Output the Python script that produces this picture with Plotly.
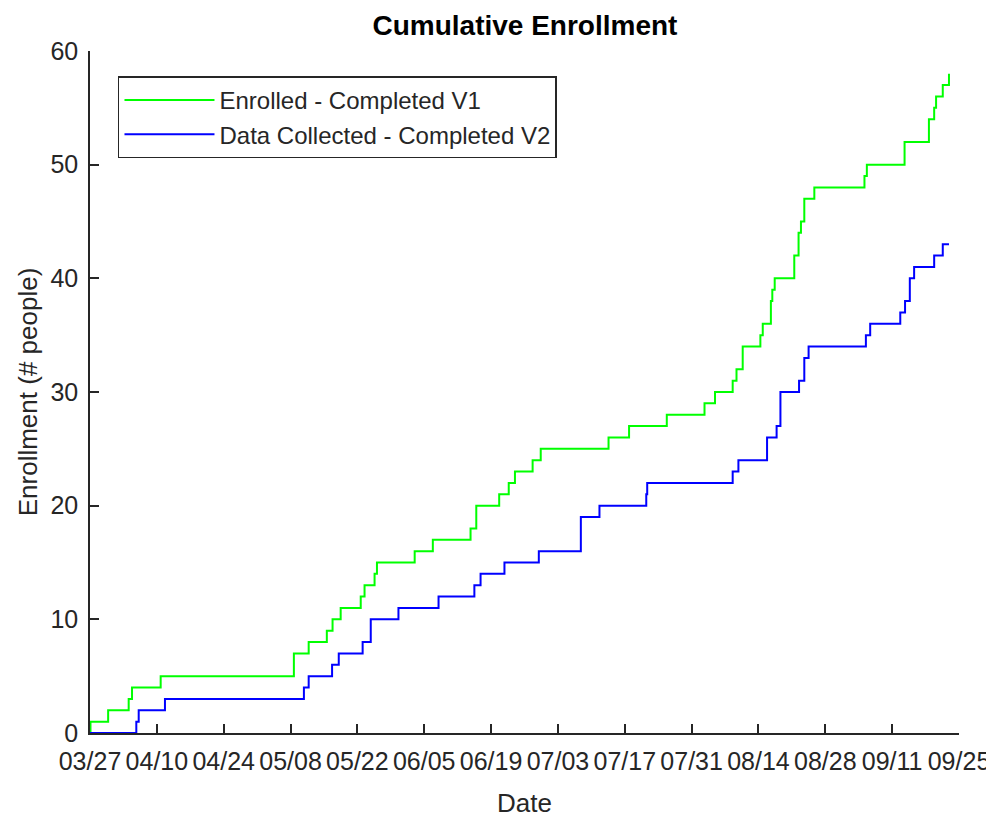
import pandas as pd
import plotly.graph_objects as go

START_DATE = "2017-03-27"
END_DATE = "2017-09-25"

# Day offsets (from START_DATE) at which each cumulative count changes, with the count after the change
enrolled_days = [0, 0.1, 3.8, 8.1, 8.8, 14.8, 42.7, 45.8, 49.6, 50.8, 52.5, 56.7, 57.5, 59.6, 60.1,
                 68.0, 71.8, 79.7, 80.9, 85.7, 87.7, 89.0, 92.7, 94.4, 108.6, 112.9, 120.8,
                 128.7, 130.9, 134.6, 135.4, 136.7, 140.4, 140.9, 142.6, 142.9, 143.4, 147.5,
                 148.4, 148.9, 149.6, 151.7, 162.2, 162.7, 170.6, 175.7, 176.8, 177.2, 178.6, 179.9]
enrolled_counts = [0, 1, 2, 3, 4, 5, 7, 8, 9, 10, 11, 12, 13, 14, 15,
                   16, 17, 18, 20, 21, 22, 23, 24, 25, 26, 27, 28,
                   29, 30, 31, 32, 34, 35, 36, 38, 39, 40, 42,
                   44, 45, 47, 48, 49, 50, 52, 54, 55, 56, 57, 58]

collected_days = [0, 9.7, 10.2, 15.7, 44.8, 45.8, 50.7, 52.1, 57.1, 58.8, 64.6, 73.0, 80.5, 81.8,
                  86.8, 94.0, 102.8, 106.7, 116.5, 116.7, 134.6, 135.8, 141.8, 143.8, 144.6,
                  148.5, 149.6, 150.5, 162.5, 163.4, 169.7, 170.7, 171.7, 172.6, 176.8, 178.6, 179.9]
collected_counts = [0, 1, 2, 3, 4, 5, 6, 7, 8, 10, 11, 12, 13, 14,
                    15, 16, 19, 20, 21, 22, 23, 24, 26, 27, 30,
                    31, 33, 34, 35, 36, 37, 38, 40, 41, 42, 43, 43]

series_names = ["Enrolled - Completed V1", "Data Collected - Completed V2"]
series_colors = ["#00ff00", "#0000ff"]

start = pd.Timestamp(START_DATE)
enrolled_dates = start + pd.to_timedelta(enrolled_days, unit="D")
collected_dates = start + pd.to_timedelta(collected_days, unit="D")

FONT = "Liberation Sans, Arial, Helvetica, sans-serif"
DARK = "#262626"

fig = go.Figure()
fig.add_trace(go.Scatter(x=enrolled_dates, y=enrolled_counts, mode="lines",
                         line=dict(color=series_colors[0], width=2, shape="hv"),
                         name=series_names[0]))
fig.add_trace(go.Scatter(x=collected_dates, y=collected_counts, mode="lines",
                         line=dict(color=series_colors[1], width=2, shape="hv"),
                         name=series_names[1]))

# page body has an 8px margin, so the figure is sized/offset to compensate
fig.update_layout(
    width=986, height=810,
    margin=dict(l=82, r=35, t=42.5, b=84.5, autoexpand=False),
    paper_bgcolor="white", plot_bgcolor="white",
    font=dict(family=FONT, size=25, color=DARK),
    title=dict(text="<b>Cumulative Enrollment</b>", x=0.5243, xanchor="center",
               y=0.979, yanchor="middle", font=dict(size=28, color="black")),
    legend=dict(x=0.0322, y=0.9627, xanchor="left", yanchor="top",
                bgcolor="white", bordercolor=DARK, borderwidth=1.5,
                font=dict(size=24, color=DARK), itemwidth=90,
                tracegroupgap=0),
    showlegend=True,
)

fig.update_xaxes(
    type="date", range=[START_DATE, END_DATE],
    tick0=START_DATE, dtick=14 * 86400000, tickformat="%m/%d",
    showline=True, linecolor=DARK, linewidth=1.5, mirror=False,
    ticks="inside", ticklen=9, tickwidth=1.5, tickcolor=DARK,
    showgrid=False, zeroline=False, automargin=False,
    ticklabelstandoff=5,
    title=dict(text="Date", font=dict(size=26), standoff=22),
    tickfont=dict(size=25, color=DARK),
)
fig.update_yaxes(
    range=[0, 60], tick0=0, dtick=10,
    showline=True, linecolor=DARK, linewidth=1.5, mirror=False,
    ticks="inside", ticklen=9, tickwidth=1.5, tickcolor=DARK,
    showgrid=False, zeroline=False, automargin=False,
    ticklabelstandoff=5,
    title=dict(text="Enrollment (# people)", font=dict(size=26), standoff=5),
    tickfont=dict(size=25, color=DARK),
)

fig.write_html("out.html")
